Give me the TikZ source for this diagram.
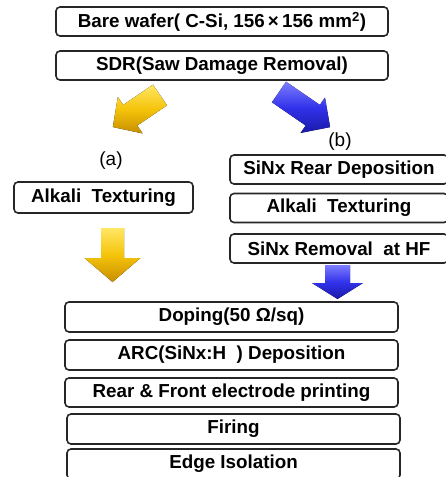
\documentclass[tikz,border=0pt]{standalone}
\usepackage{fontspec}
\setmainfont{Liberation Sans}
\usepackage{xcolor}
\definecolor{goldmid}{RGB}{245,196,10}
\definecolor{goldlight}{RGB}{255,230,100}
\definecolor{golddark}{RGB}{200,142,0}
\definecolor{bluemid}{RGB}{50,50,235}
\definecolor{bluelight}{RGB}{125,125,255}
\definecolor{bluedark}{RGB}{25,25,170}
\tikzset{
  % length / shaft width / head width / head length
  pics/blockarrow/.style n args={4}{code={
    \fill[pic actions] (0,-#2/2) -- (#1-#4,-#2/2) -- (#1-#4,-#3/2) -- (#1,0)
      -- (#1-#4,#3/2) -- (#1-#4,#2/2) -- (0,#2/2) -- cycle;}}
}

\begin{document}
\begin{tikzpicture}[x=1pt, y=-1pt, font=\fontsize{18.8}{20}\selectfont\bfseries,
    stepbox/.style={draw=black!85, line width=1.6pt, rounded corners=4pt,
      minimum height=29, inner sep=0pt},
    gold/.style={top color=goldlight, bottom color=golddark, middle color=goldmid},
    blu/.style={top color=bluelight, bottom color=bluedark, middle color=bluemid}]
  % 1 pt = 1 px of the reference
  \clip (0,0) rectangle (446,477);
  \node[stepbox, minimum width=332] (wafer) at (222,21.5) {Bare wafer( C-Si, 156\,×\,156 mm\textsuperscript{2})};
  \node[stepbox, minimum width=332] (sdr) at (222,65.5) {SDR(Saw Damage Removal)};
  % route (a)
  \pic[gold, rotate=-145.8] (arra) at (160,95) {blockarrow={57}{25}{44}{21}};
  \node[font=\fontsize{19}{20}\selectfont\mdseries] (laba) at (111,161) {(a)};
  \node[stepbox, minimum width=179, minimum height=31] (texa) at (103.5,197.5) {Alkali~~Texturing};
  \pic[gold, rotate=-90] (downa) at (112.5,228) {blockarrow={54}{23}{56}{24}};
  % route (b)
  \pic[blu, rotate=-34.5] (arrb) at (279,92) {blockarrow={62}{25}{43}{21}};
  \node[font=\fontsize{19}{20}\selectfont\mdseries] (labb) at (340,142) {(b)};
  \node[stepbox, minimum width=218] (rear) at (339,169.5) {SiNx Rear Deposition};
  \node[stepbox, minimum width=218] (texb) at (339,208) {Alkali~~Texturing};
  \node[stepbox, minimum width=218] (hf) at (339,248.5) {SiNx Removal~~at HF};
  \pic[blu, rotate=-90] (downb) at (337.5,265) {blockarrow={34}{25}{51}{16}};
  % common steps
  \node[stepbox, minimum width=333, minimum height=30] (dop) at (231.5,317) {Doping(50 Ω/sq)};
  \node[stepbox, minimum width=333, minimum height=30] (arc) at (231.5,355) {ARC(SiNx:H~~) Deposition};
  \node[stepbox, minimum width=333] (print) at (231.5,392.5) {Rear \& Front electrode printing};
  \node[stepbox, minimum width=333, minimum height=30] (fire) at (233.5,429) {Firing};
  \node[stepbox, minimum width=333, minimum height=30] (edge) at (233.5,464) {Edge Isolation};
\end{tikzpicture}
\end{document}
